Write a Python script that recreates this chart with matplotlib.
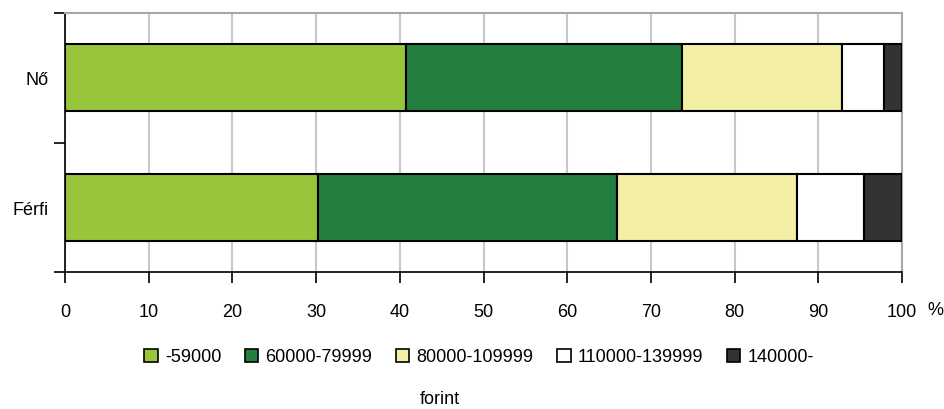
import matplotlib
matplotlib.use("Agg")
import matplotlib.pyplot as plt
from matplotlib import font_manager
import numpy as np

# Income distribution by sex (percent)
categories = ["Nő", "Férfi"]
bands = ["-59000", "60000-79999", "80000-109999", "110000-139999", "140000-"]
shares = {
    "-59000":        [40.8, 30.2],
    "60000-79999":   [32.9, 35.7],
    "80000-109999":  [19.1, 21.6],
    "110000-139999": [5.0, 8.0],
    "140000-":       [2.2, 4.5],
}
colors = ["#99C53C", "#237F3F", "#F3F0A5", "#FFFFFF", "#333333"]
xticks = [0, 10, 20, 30, 40, 50, 60, 70, 80, 90, 100]

names = {f.name for f in font_manager.fontManager.ttflist}
if "Liberation Sans Narrow" in names:
    family, fs = "Liberation Sans Narrow", 15
else:
    family, fs = "Liberation Sans", 13
plt.rcParams["font.family"] = [family, "DejaVu Sans"]

fig = plt.figure(figsize=(9.44, 4.10), dpi=100)
ax = fig.add_axes([65 / 944, 1 - 273 / 410, (902 - 65) / 944, (273 - 14) / 410])

y = np.arange(len(categories))
left = np.zeros(len(categories))
for band, col in zip(bands, colors):
    vals = np.array(shares[band])
    ax.barh(y, vals, left=left, height=0.52, color=col, edgecolor="black",
            linewidth=1.5, label=band, zorder=3)
    left += vals

ax.set_xlim(0, 100)
ax.set_ylim(1.5, -0.5)
ax.set_xticks(xticks)
ax.set_xticklabels([str(t) for t in xticks], fontsize=fs)
ax.xaxis.grid(True, color="#C8C8C8", linewidth=1.5, zorder=0)

ax.set_yticks([-0.5, 0.5, 1.5])
ax.set_yticklabels([])
ax.set_yticks(y, minor=True)
ax.set_yticklabels(categories, minor=True, fontsize=fs)
ax.tick_params(axis="y", which="minor", length=0, pad=12)
ax.tick_params(axis="y", which="major", length=8, width=1.2, direction="out")
ax.tick_params(axis="x", length=8, width=1.2, direction="out", pad=14)

for side in ("top", "right"):
    ax.spines[side].set_color("#A8A8A8")
    ax.spines[side].set_linewidth(1.5)
for side in ("left", "bottom"):
    ax.spines[side].set_color("black")
    ax.spines[side].set_linewidth(1.2)

fig.text(935 / 944, 1 - 311 / 410, "%", fontsize=fs, ha="center", va="center")

leg = fig.legend(loc="center", bbox_to_anchor=(479 / 944, 1 - 358 / 410), ncol=5,
                 frameon=False, fontsize=fs, handlelength=0.75, handleheight=0.75,
                 handletextpad=0.4, columnspacing=1.3)
for h in leg.legend_handles:
    h.set_linewidth(1.2)

fig.text(440 / 944, 1 - 400 / 410, "forint", fontsize=fs, ha="center", va="center")

fig.savefig("out.png", dpi=100)
